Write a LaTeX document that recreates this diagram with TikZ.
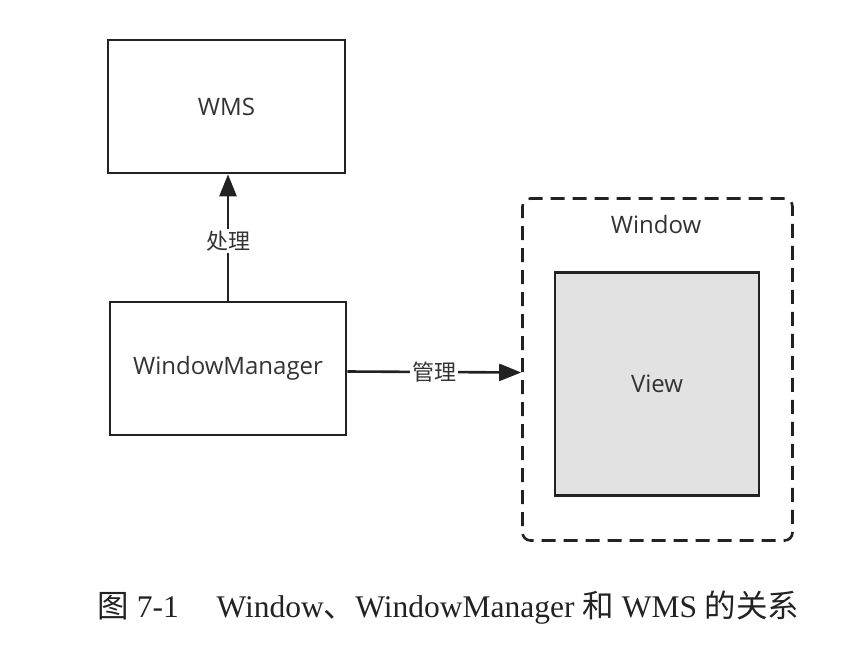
\documentclass[tikz,border=0pt]{standalone}
\usepackage{fontspec}
\setmainfont{Liberation Serif}
\newfontfamily\diagfont{Open Sans}
\newfontfamily\cjk{Noto Sans CJK SC}
\usetikzlibrary{arrows.meta}
\definecolor{ink}{HTML}{222222}
\definecolor{txt}{HTML}{333333}
\definecolor{viewgray}{HTML}{E2E2E2}
\begin{document}
\begin{tikzpicture}[x=1pt,y=-1pt,
  box/.style={draw=ink,line width=2.6pt,fill=white,inner sep=0pt,font=\diagfont\fontsize{24}{28}\selectfont,text=txt},
  conn/.style={draw=ink,line width=2.6pt,-{Triangle[length=22pt,width=17pt]}},
  lbl/.style={fill=white,inner sep=2pt,font=\cjk\fontsize{22}{26}\selectfont,text=txt}]
\useasboundingbox (0,0) rectangle (846,658);
\node[box,minimum width=237pt,minimum height=133pt] (wms) at (226.5,106.5) {WMS};
\node[box,minimum width=236pt,minimum height=133pt] (wm) at (228,368.5) {WindowManager};
\node[draw=ink,line width=2.6pt,dash pattern=on 14pt off 8pt,rounded corners=8pt,minimum width=270pt,minimum height=342pt,inner sep=0pt] (win) at (657.5,369.5) {};
\node[font=\diagfont\fontsize{24}{28}\selectfont,text=txt] (winlbl) at (656,224) {Window};
\node[box,fill=viewgray,minimum width=204pt,minimum height=223pt] (view) at (657,384) {View};
\draw[conn] (wm.north) -- (wm.north |- wms.south) node[lbl,pos=0.47] {处理};
\draw[conn] ([yshift=-3pt]wm.east) -- ([yshift=-3pt]win.west) node[lbl,midway] {管理};
\node[font=\fontsize{31.5}{36}\selectfont,text=ink] (cap) at (448.5,608) {{\cjk 图} 7-1\hspace{1.2em}Window{\cjk 、}WindowManager {\cjk 和} WMS {\cjk 的关系}};
\end{tikzpicture}
\end{document}
